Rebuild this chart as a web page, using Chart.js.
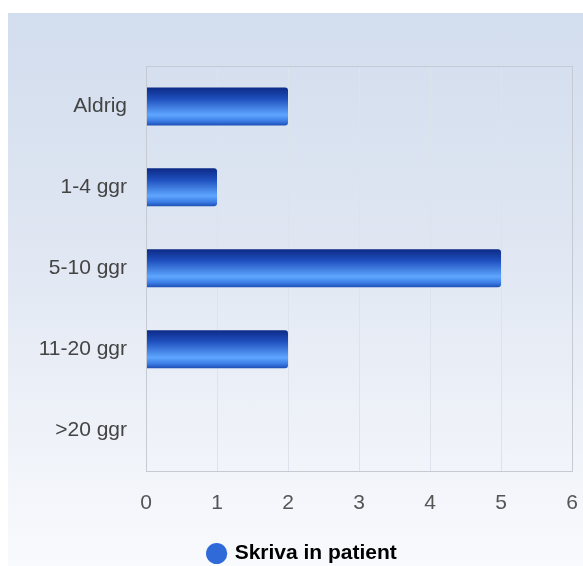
<!DOCTYPE html>
<html>
<head>
<meta charset="utf-8">
<script src="https://cdn.jsdelivr.net/npm/chart.js@4"></script>
<style>
  html, body { margin: 0; padding: 0; background: #fff; overflow: hidden; }
  #wrap {
    position: absolute; left: 8px; top: 13px; width: 590px; height: 553px;
    background: linear-gradient(to bottom, #d2ddee 0%, #dfe6f2 40%, #f9fafd 100%);
  }
</style>
</head>
<body>
<div id="wrap"><canvas id="chart" width="590" height="561"></canvas></div>
<script>
// data
const categories = ["Aldrig", "1-4 ggr", "5-10 ggr", "11-20 ggr", ">20 ggr"];
const values = [2, 1, 5, 2, 0];
const seriesName = "Skriva in patient";
const xTicks = [0, 1, 2, 3, 4, 5, 6];

const barPct = 0.47;

function barGradient(context) {
  const chart = context.chart;
  const area = chart.chartArea;
  if (!area || context.dataIndex === undefined) return "#2a64d8";
  const yScale = chart.scales.y;
  const band = (area.bottom - area.top) / categories.length;
  const mid = yScale.getPixelForValue(context.dataIndex);
  const half = band * barPct / 2;
  const g = chart.ctx.createLinearGradient(0, mid - half, 0, mid + half);
  g.addColorStop(0, "#0c2a86");
  g.addColorStop(0.3, "#1f4fbd");
  g.addColorStop(0.72, "#5ea6ff");
  g.addColorStop(0.88, "#3d7ee6");
  g.addColorStop(1, "#1d4fb5");
  return g;
}

// frame around the plot area
const plotBorder = {
  id: "plotBorder",
  afterDraw(chart) {
    const a = chart.chartArea;
    const ctx = chart.ctx;
    ctx.save();
    ctx.strokeStyle = "#c6cad2";
    ctx.lineWidth = 1;
    ctx.strokeRect(Math.round(a.left) + 0.5, Math.round(a.top) + 0.5,
      Math.round(a.right - a.left), Math.round(a.bottom - a.top));
    ctx.restore();
  },
};

new Chart(document.getElementById("chart"), {
  type: "bar",
  data: {
    labels: categories,
    datasets: [
      {
        label: seriesName,
        data: values,
        backgroundColor: barGradient,
        borderRadius: { topRight: 3, bottomRight: 3, topLeft: 0, bottomLeft: 0 },
        borderSkipped: false,
        barPercentage: barPct,
        categoryPercentage: 1,
      },
    ],
  },
  options: {
    indexAxis: "y",
    responsive: false,
    animation: false,
    layout: { padding: { top: 53, right: 26, left: 26, bottom: 0 } },
    scales: {
      x: {
        min: 0,
        max: 6,
        afterBuildTicks: (scale) => {
          scale.ticks = xTicks.map((v) => ({ value: v }));
        },
        afterFit: (scale) => { scale.height = 70; },
        grid: { color: "#dde3ec", drawTicks: false },
        border: { display: false },
        ticks: {
          padding: 20,
          color: "#555",
          font: { family: "Liberation Sans, Arial", size: 21 },
        },
      },
      y: {
        afterFit: (scale) => { scale.width = 112; },
        grid: { display: false, drawTicks: false },
        border: { display: false },
        ticks: {
          padding: 19,
          color: "#444",
          font: { family: "Liberation Sans, Arial", size: 21 },
        },
      },
    },
    plugins: {
      tooltip: { enabled: false },
      legend: {
        position: "bottom",
        labels: {
          usePointStyle: true,
          pointStyle: "circle",
          boxWidth: 15,
          boxHeight: 15,
          padding: 2.5,
          color: "#333",
          font: { family: "Liberation Sans, Arial", size: 21, weight: "bold" },
          generateLabels: (chart) => [
            {
              text: seriesName,
              fillStyle: "#2f6ad8",
              strokeStyle: "#2f6ad8",
              lineWidth: 0,
              pointStyle: "circle",
              datasetIndex: 0,
            },
          ],
        },
      },
    },
  },
  plugins: [plotBorder],
});
</script>
</body>
</html>
